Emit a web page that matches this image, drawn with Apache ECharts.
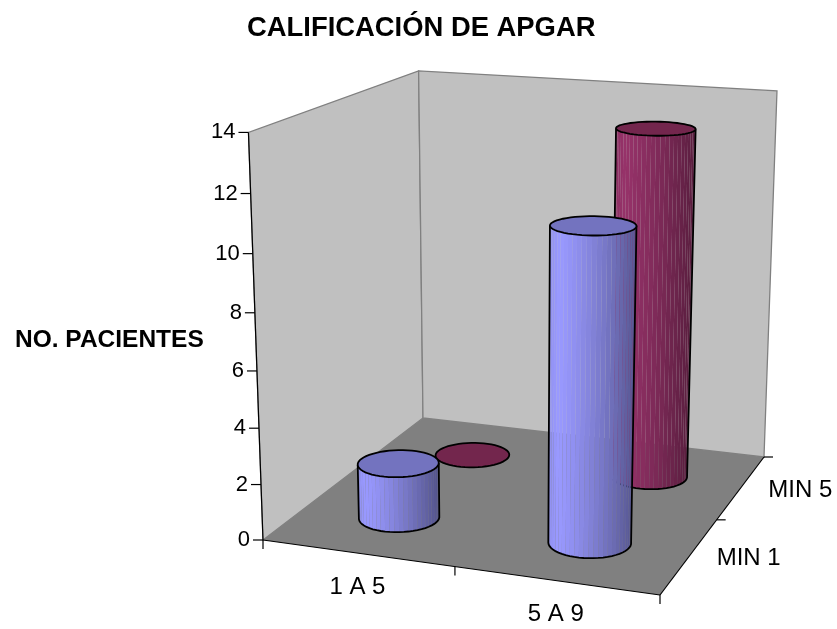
<!DOCTYPE html>
<html>
<head>
<meta charset="utf-8">
<style>html,body{margin:0;padding:0;background:#fff}#chart{width:837px;height:629px}</style>
<script src="https://cdn.jsdelivr.net/npm/echarts@6/dist/echarts.min.js"></script>
</head>
<body>
<div id="chart"></div>
<script>
const titleText = 'CALIFICACIÓN DE APGAR';
const valueAxisName = 'NO. PACIENTES';
const categories = ['1 A 5', '5 A 9'];
const depthLabels = ['MIN 1', 'MIN 5'];
const min1Values = [2, 11];
const min5Values = [0, 13];
const valueTicks = [0, 2, 4, 6, 8, 10, 12, 14];
const valueMax = 14;

// Corners of the chart box on screen: floor, then the tops of the walls.
const FLOOR = { fl: [263, 540], fr: [660, 595], br: [764, 457], bl: [423, 418] };
const TOPS = [[0, 0, [248, 131]], [0, 1, [419, 72]], [1, 1, [777, 91]]];

// Homography from the unit floor square (u along categories, d along depth).
function floorMatrix(q) {
  const [x0, y0] = q.fl, [x1, y1] = q.fr, [x2, y2] = q.br, [x3, y3] = q.bl;
  const dx1 = x1 - x2, dx2 = x3 - x2, sx = x0 - x1 + x2 - x3;
  const dy1 = y1 - y2, dy2 = y3 - y2, sy = y0 - y1 + y2 - y3;
  const den = dx1 * dy2 - dx2 * dy1;
  const g = (sx * dy2 - dx2 * sy) / den;
  const h = (dx1 * sy - sx * dy1) / den;
  return [x1 - x0 + g * x1, x3 - x0 + h * x3, x0,
          y1 - y0 + g * y1, y3 - y0 + h * y3, y0,
          g, h, 1];
}
const H = floorMatrix(FLOOR);
const floorHomog = (u, d) => [
  H[0] * u + H[1] * d + H[2],
  H[3] * u + H[4] * d + H[5],
  H[6] * u + H[7] * d + H[8]
];

// Homogeneous direction of the vertical axis, fitted to the wall tops.
const V = (function () {
  const rows = TOPS.map(([u, d, t]) => {
    const b = floorHomog(u, d);
    return { tx: t[0], ty: t[1], rx: t[0] * b[2] - b[0], ry: t[1] * b[2] - b[1] };
  });
  const mean = (f) => rows.reduce((s, r) => s + f(r), 0) / rows.length;
  const mtx = mean(r => r.tx), mty = mean(r => r.ty), mrx = mean(r => r.rx), mry = mean(r => r.ry);
  let sxy = 0, sxx = 0;
  rows.forEach(r => {
    sxy += (r.tx - mtx) * (r.rx - mrx) + (r.ty - mty) * (r.ry - mry);
    sxx += (r.tx - mtx) ** 2 + (r.ty - mty) ** 2;
  });
  const w = -sxy / sxx;
  return [mrx + mtx * w, mry + mty * w, w];
})();

function project(u, d, value) {
  const b = floorHomog(u, d), k = value / valueMax;
  const w = b[2] + k * V[2];
  return [(b[0] + k * V[0]) / w, (b[1] + k * V[1]) / w];
}

const FAMILY = '"Liberation Sans", Arial, sans-serif';
const AXIS = '#000';
const WALL = '#c0c0c0', FLOOR_FILL = '#808080', WALL_EDGE = '#808080';

const poly = (pts, fill) => ({ type: 'polygon', shape: { points: pts }, style: { fill, stroke: WALL_EDGE, lineWidth: 1.3 } });
const line = (a, b, stroke, lineWidth) => ({
  type: 'line', shape: { x1: a[0], y1: a[1], x2: b[0], y2: b[1] }, style: { stroke, lineWidth: lineWidth || 1.2 }
});
const text = (str, x, y, align, size) => ({
  type: 'text',
  style: { text: str, x, y, textAlign: align, textVerticalAlign: 'middle', font: size + 'px ' + FAMILY, fill: '#000' }
});

// Walls, floor, axis lines, ticks and tick labels of the box.
function renderFrame() {
  const fl = project(0, 0, 0), fr = project(1, 0, 0), br = project(1, 1, 0), bl = project(0, 1, 0);
  const flT = project(0, 0, valueMax), blT = project(0, 1, valueMax), brT = project(1, 1, valueMax);
  const children = [
    poly([fl, bl, blT, flT], WALL),
    poly([bl, br, brT, blT], WALL),
    { type: 'polygon', shape: { points: [fl, fr, br, bl] }, style: { fill: FLOOR_FILL } },
    line(fl, flT, AXIS), line(fl, fr, AXIS), line(fr, br, AXIS)
  ];
  valueTicks.forEach(v => {
    const p = project(0, 0, v);
    children.push(line([p[0] - 10, p[1]], p, AXIS));
    children.push(text(String(v), p[0] - 13, p[1], 'right', 22));
  });
  const nCat = categories.length;
  for (let i = 0; i <= nCat; i++) {
    const p = project(i / nCat, 0, 0);
    children.push(line(p, [p[0], p[1] + 9], AXIS));
  }
  categories.forEach((c, i) => {
    const p = project((i + 0.5) / nCat, 0, 0);
    children.push(text(c, p[0], p[1] + 34, 'center', 24));
  });
  const nDepth = depthLabels.length;
  for (let i = 1; i <= nDepth; i++) {
    const p = project(1, i / nDepth, 0);
    children.push(line(p, [p[0] + 9, p[1]], AXIS));
  }
  depthLabels.forEach((c, i) => {
    const p = project(1, (i + 0.5) / nDepth, 0);
    children.push(text(c, p[0] + 27, p[1] + 3, 'left', 24));
  });
  return { type: 'group', children };
}

const FACETS = 54, RADIUS = 0.1;

function shade(rgb, t) {
  const f = t < 0.1 ? 0.94 + 0.06 * t / 0.1 : 1 - 0.46 * Math.pow((t - 0.1) / 0.9, 1.25);
  return 'rgb(' + rgb.map(c => Math.round(c * f)).join(',') + ')';
}

// A cylinder standing on the floor: shaded facets, outline and lid.
function cylinderRenderer(depthIndex, bodyRgb, lidFill) {
  return function (params, api) {
    const px = api.coord([api.value(0), api.value(1)]);
    const rect = params.coordSys;
    const u = (px[0] - rect.x) / rect.width;
    const value = valueMax * (rect.y + rect.height - px[1]) / rect.height;
    const d = (depthIndex + 0.5) / depthLabels.length;

    const base = [], top = [];
    for (let i = 0; i <= FACETS; i++) {
      const a = i / FACETS * Math.PI * 2;
      const cu = u + RADIUS * Math.cos(a), cd = d + RADIUS * Math.sin(a);
      base.push(project(cu, cd, 0));
      top.push(project(cu, cd, value));
    }
    const children = [];
    if (value > 0) {
      const xs = base.concat(top).map(p => p[0]);
      const minX = Math.min(...xs), maxX = Math.max(...xs);
      // Keep the facets turned towards the viewer: they run down the lower half of the base.
      const visible = [];
      for (let i = 0; i < FACETS; i++) {
        const q = [base[i], base[i + 1], top[i + 1], top[i]];
        let area = 0;
        q.forEach((p, k) => { const n = q[(k + 1) % 4]; area += p[0] * n[1] - n[0] * p[1]; });
        if (area < 0) visible.push(i);
      }
      visible.sort((a, b) => a - b);
      let start = 0;
      for (let k = 1; k < visible.length; k++) if (visible[k] !== visible[k - 1] + 1) start = k;
      const ordered = visible.slice(start).concat(visible.slice(0, start));
      ordered.forEach(i => {
        const q = [base[i], base[i + 1], top[i + 1], top[i]];
        const cx = (q[0][0] + q[1][0]) / 2;
        children.push({
          type: 'polygon', shape: { points: q },
          style: { fill: shade(bodyRgb, (cx - minX) / (maxX - minX)) }
        });
      });
      const first = ordered[0], last = ordered[ordered.length - 1] + 1;
      const outline = [top[first]];
      ordered.forEach(i => outline.push(base[i]));
      outline.push(base[last], top[last]);
      children.push({
        type: 'polyline', shape: { points: outline },
        style: { stroke: '#000', lineWidth: 1.8, fill: null }
      });
    }
    children.push({
      type: 'polygon', shape: { points: top.slice(0, FACETS) },
      style: { fill: lidFill, stroke: '#000', lineWidth: 1.8 }
    });
    return { type: 'group', children };
  };
}

const chart = echarts.init(document.getElementById('chart'), null, { renderer: 'canvas' });
chart.setOption({
  animation: false,
  backgroundColor: '#fff',
  title: [
    { text: titleText, left: 242, top: 10,
      textStyle: { fontFamily: FAMILY, fontSize: 27.4, fontWeight: 'bold', color: '#000' } },
    { text: valueAxisName, left: 10, top: 323,
      textStyle: { fontFamily: FAMILY, fontSize: 24.5, fontWeight: 'bold', color: '#000' } }
  ],
  grid: { left: 263, top: 131, width: 397, height: 409, show: false },
  xAxis: { type: 'category', data: categories, show: false },
  yAxis: { type: 'value', min: 0, max: valueMax, interval: 2, show: false },
  series: [
    { type: 'custom', name: 'box', coordinateSystem: 'cartesian2d', clip: false, silent: true,
      data: [[0, 0]], renderItem: renderFrame },
    { type: 'custom', name: depthLabels[1], coordinateSystem: 'cartesian2d', clip: false, silent: true,
      data: categories.map((c, i) => [i, min5Values[i]]),
      renderItem: cylinderRenderer(1, [150, 50, 105], '#73264d') },
    { type: 'custom', name: depthLabels[0], coordinateSystem: 'cartesian2d', clip: false, silent: true,
      data: categories.map((c, i) => [i, min1Values[i]]),
      renderItem: cylinderRenderer(0, [153, 153, 255], '#7373bf') }
  ]
});
</script>
</body>
</html>
